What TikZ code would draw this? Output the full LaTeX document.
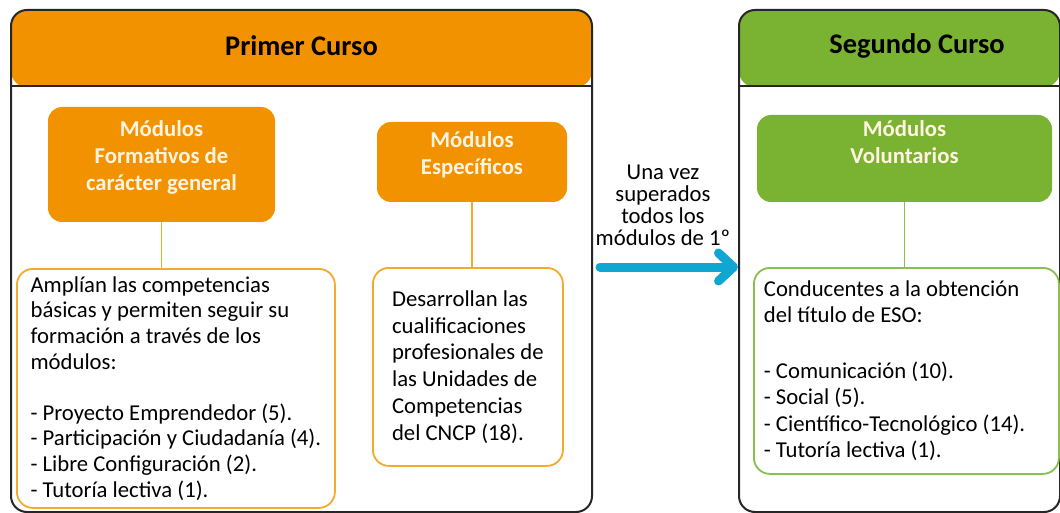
\documentclass[tikz,border=0pt]{standalone}
\usepackage{fontspec}
\setmainfont{Carlito}
\usepackage{tikz}
\usetikzlibrary{arrows.meta}
\definecolor{naranja}{RGB}{243,146,0}
\definecolor{naranjaclaro}{RGB}{246,170,45}
\definecolor{verde}{RGB}{122,178,50}
\definecolor{verdeclaro}{RGB}{136,192,76}
\definecolor{azul}{RGB}{16,166,210}
\definecolor{crema}{RGB}{255,244,226}

\begin{document}
\begin{tikzpicture}[x=1pt, y=-1pt,
		panel/.style={draw=black!85, line width=2pt, rounded corners=16pt, anchor=north west, minimum height=502pt,
			path picture={\fill[#1] (path picture bounding box.north west) rectangle ([yshift=-77pt]path picture bounding box.north east);}},
		titulo/.style={font=\fontsize{28.4}{30}\selectfont\bfseries},
		modbox/.style={fill=#1, rounded corners=14pt, text=crema, align=center, text depth=5pt, font=\fontsize{22.7}{27}\selectfont\bfseries},
		txtbox/.style={draw=#1, line width=1.8pt, rounded corners=16pt, align=flush left, anchor=north west, inner ysep=4pt},
		enlace/.style={draw=#1, line width=1.8pt}]
			%%%%% START %%%%%
			
			\useasboundingbox (0,0) rectangle (1060,513);
			
			% primer curso
			\node[panel=naranja, minimum width=581pt] (p1) at (10,9) {};
			\draw[black!85, line width=2pt] ([yshift=-77pt]p1.north west) -- ([yshift=-77pt]p1.north east);
			\node[titulo] (t1) at ([yshift=-37pt]p1.north) {Primer Curso};
			
			\node[modbox=naranja, minimum width=227pt, minimum height=115pt, text height=58pt] (fg) at (161.5,164.5) {Módulos\\Formativos de\\carácter general};
			\node[modbox=naranja, minimum width=190pt, minimum height=80pt, text height=31pt] (fe) at (472,162) {Módulos\\Específicos};
			
			\node[txtbox=naranjaclaro, minimum width=318pt, minimum height=239pt, font=\fontsize{22.7}{25.6}\selectfont] (fgt) at (16,268)
				{Amplían las competencias\\básicas y permiten seguir su\\formación a través de los\\módulos:\\[25.6pt]- Proyecto Emprendedor (5).\\- Participación y Ciudadanía (4).\\- Libre Configuración (2).\\- Tutoría lectiva (1).};
			\node[txtbox=naranjaclaro, minimum width=190pt, minimum height=198pt, font=\fontsize{22.7}{26.8}\selectfont] (fet) at (372,267)
				{Desarrollan las\\cualificaciones\\profesionales de\\las Unidades de\\Competencias\\del CNCP (18).};
			
			\draw[enlace=naranjaclaro] (fg.south) -- (fg.south |- fgt.north);
			\draw[enlace=naranjaclaro] (fe.south) -- (fe.south |- fet.north);
			
			% segundo curso
			\node[panel=verde, minimum width=321pt] (p2) at (738,9) {};
			\draw[black!85, line width=2pt] ([yshift=-77pt]p2.north west) -- ([yshift=-77pt]p2.north east);
			\node[titulo] (t2) at (917,46) {Segundo Curso};
			
			\node[modbox=verde, minimum width=295pt, minimum height=87pt, text height=16pt] (fv) at (904.5,158.5) {Módulos\\Voluntarios};
			\node[txtbox=verdeclaro, text width=285pt, inner xsep=10pt, minimum height=206pt, font=\fontsize{22.7}{26.5}\selectfont] (fvt) at (753,267)
				{Conducentes a la obtención\\del título de ESO:\\[29pt]- Comunicación (10).\\- Social (5).\\- Científico-Tecnológico (14).\\- Tutoría lectiva (1).};
			
			\draw[enlace=verdeclaro] (fv.south) -- (fv.south |- fvt.north);
			
			% paso de curso
			\node[align=center, font=\fontsize{22.7}{22}\selectfont] (nota) at (663,205) {Una vez\\superados\\todos los\\módulos de 1º};
			\draw[azul, line width=9pt, line cap=round, -{Straight Barb[length=15pt, width=28pt, round]}] ([xshift=7pt, yshift=-6pt]p1.east) -- ([yshift=-6pt]p2.west);
			
			%%%%% END %%%%%
\end{tikzpicture}
\end{document}
